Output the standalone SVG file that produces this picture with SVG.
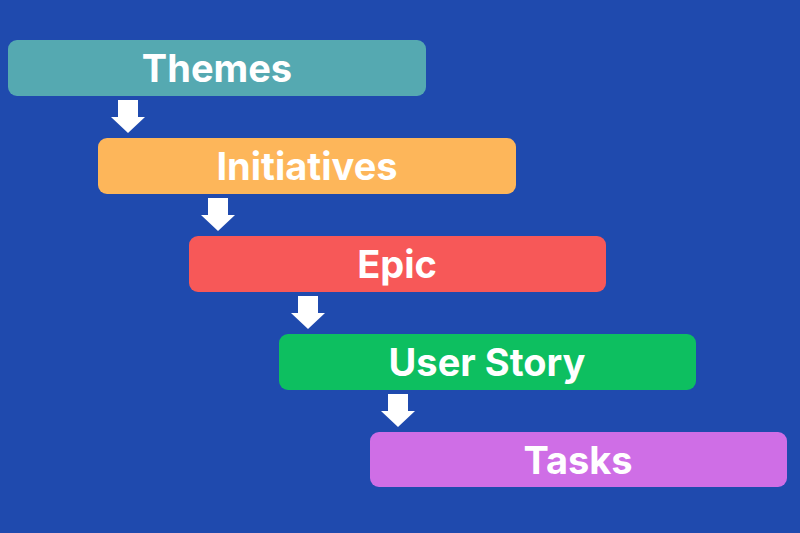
<svg xmlns="http://www.w3.org/2000/svg" width="800" height="533" viewBox="0 0 800 533">
<style>
.box{stroke:none}
.lbl{font-family:Inter,"Liberation Sans",sans-serif;font-weight:700;font-size:38px;fill:#ffffff;text-anchor:middle}
.arr{fill:#ffffff}
</style>
<defs>
<path id="arrow" d="M-10,0 H10 V17 H17 L0,33 L-17,17 H-10 Z"/>
</defs>
<rect width="800" height="533" fill="#1f4aae"/>
<g id="themes"><rect class="box" x="8" y="40" width="418" height="56" rx="9" fill="#55a9b1"/><text class="lbl" x="217" y="82">Themes</text></g>
<g id="initiatives"><rect class="box" x="98" y="138" width="418" height="56" rx="9" fill="#fdb65a"/><text class="lbl" x="307" y="180">Initiatives</text></g>
<g id="epic"><rect class="box" x="189" y="236" width="417" height="56" rx="9" fill="#f75858"/><text class="lbl" x="397" y="278">Epic</text></g>
<g id="userstory"><rect class="box" x="279" y="334" width="417" height="56" rx="9" fill="#0dbf60"/><text class="lbl" x="487" y="376">User Story</text></g>
<g id="tasks"><rect class="box" x="370" y="432" width="417" height="55" rx="9" fill="#cf6ee6"/><text class="lbl" x="578" y="474">Tasks</text></g>
<g id="connectors">
<use href="#arrow" class="arr" x="128" y="100"/>
<use href="#arrow" class="arr" x="218" y="198"/>
<use href="#arrow" class="arr" x="308" y="296"/>
<use href="#arrow" class="arr" x="398" y="394"/>
</g>
</svg>
